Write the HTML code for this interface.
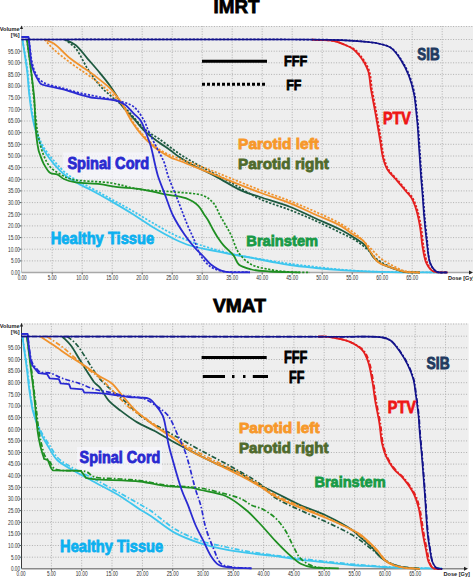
<!DOCTYPE html>
<html><head><meta charset="utf-8"><style>
html,body{margin:0;padding:0;background:#fff;width:473px;height:579px;overflow:hidden}
svg{display:block}
</style></head><body>
<svg width="473" height="579" viewBox="0 0 473 579">
<rect x="21.5" y="26.0" width="451.5" height="246.5" fill="#eeeeee"/>
<path d="M52.2,26.0 V272.5 M82.2,26.0 V272.5 M112.2,26.0 V272.5 M142.2,26.0 V272.5 M172.2,26.0 V272.5 M202.2,26.0 V272.5 M232.2,26.0 V272.5 M262.2,26.0 V272.5 M292.2,26.0 V272.5 M322.2,26.0 V272.5 M352.2,26.0 V272.5 M382.2,26.0 V272.5 M412.2,26.0 V272.5 M442.2,26.0 V272.5 M21.5,260.9 H473.0 M21.5,249.2 H473.0 M21.5,237.6 H473.0 M21.5,225.9 H473.0 M21.5,214.2 H473.0 M21.5,202.6 H473.0 M21.5,190.9 H473.0 M21.5,179.3 H473.0 M21.5,167.6 H473.0 M21.5,156.0 H473.0 M21.5,144.3 H473.0 M21.5,132.7 H473.0 M21.5,121.0 H473.0 M21.5,109.4 H473.0 M21.5,97.8 H473.0 M21.5,86.1 H473.0 M21.5,74.4 H473.0 M21.5,62.8 H473.0 M21.5,51.2 H473.0 M21.5,39.5 H473.0 M21.5,26.5 H473.0" stroke="#b0b0b0" stroke-width="1" stroke-dasharray="1,1.6" fill="none"/>
<path d="M21.5,26.0 V272.5" stroke="#c0c0c0" stroke-width="1"/>
<path d="M21.5,272.5 H470.0" stroke="#a8a8a8" stroke-width="1.5"/>
<path d="M21.5,25.5 l-1.6,3.5 h3.2 z" fill="#222"/>
<path d="M473.0,272.5 l-4,-2 v4 z" fill="#222"/>
<path d="M19.5,260.9 H21.5 M19.5,249.2 H21.5 M19.5,237.6 H21.5 M19.5,225.9 H21.5 M19.5,214.2 H21.5 M19.5,202.6 H21.5 M19.5,190.9 H21.5 M19.5,179.3 H21.5 M19.5,167.6 H21.5 M19.5,156.0 H21.5 M19.5,144.3 H21.5 M19.5,132.7 H21.5 M19.5,121.0 H21.5 M19.5,109.4 H21.5 M19.5,97.8 H21.5 M19.5,86.1 H21.5 M19.5,74.4 H21.5 M19.5,62.8 H21.5 M19.5,51.2 H21.5 M52.2,272.5 v2 M82.2,272.5 v2 M112.2,272.5 v2 M142.2,272.5 v2 M172.2,272.5 v2 M202.2,272.5 v2 M232.2,272.5 v2 M262.2,272.5 v2 M292.2,272.5 v2 M322.2,272.5 v2 M352.2,272.5 v2 M382.2,272.5 v2 M412.2,272.5 v2" stroke="#606060" stroke-width="1"/>
<g font-family="Liberation Sans" font-size="6.8" fill="#303030"><text x="11.0" y="274.8" textLength="9.0" lengthAdjust="spacingAndGlyphs">0.00</text><text x="11.0" y="263.2" textLength="9.0" lengthAdjust="spacingAndGlyphs">5.00</text><text x="8.0" y="251.5" textLength="12.0" lengthAdjust="spacingAndGlyphs">10.00</text><text x="8.0" y="239.9" textLength="12.0" lengthAdjust="spacingAndGlyphs">15.00</text><text x="8.0" y="228.2" textLength="12.0" lengthAdjust="spacingAndGlyphs">20.00</text><text x="8.0" y="216.6" textLength="12.0" lengthAdjust="spacingAndGlyphs">25.00</text><text x="8.0" y="204.9" textLength="12.0" lengthAdjust="spacingAndGlyphs">30.00</text><text x="8.0" y="193.2" textLength="12.0" lengthAdjust="spacingAndGlyphs">35.00</text><text x="8.0" y="181.6" textLength="12.0" lengthAdjust="spacingAndGlyphs">40.00</text><text x="8.0" y="169.9" textLength="12.0" lengthAdjust="spacingAndGlyphs">45.00</text><text x="8.0" y="158.3" textLength="12.0" lengthAdjust="spacingAndGlyphs">50.00</text><text x="8.0" y="146.7" textLength="12.0" lengthAdjust="spacingAndGlyphs">55.00</text><text x="8.0" y="135.0" textLength="12.0" lengthAdjust="spacingAndGlyphs">60.00</text><text x="8.0" y="123.3" textLength="12.0" lengthAdjust="spacingAndGlyphs">65.00</text><text x="8.0" y="111.7" textLength="12.0" lengthAdjust="spacingAndGlyphs">70.00</text><text x="8.0" y="100.0" textLength="12.0" lengthAdjust="spacingAndGlyphs">75.00</text><text x="8.0" y="88.4" textLength="12.0" lengthAdjust="spacingAndGlyphs">80.00</text><text x="8.0" y="76.7" textLength="12.0" lengthAdjust="spacingAndGlyphs">85.00</text><text x="8.0" y="65.1" textLength="12.0" lengthAdjust="spacingAndGlyphs">90.00</text><text x="8.0" y="53.5" textLength="12.0" lengthAdjust="spacingAndGlyphs">95.00</text><text x="17.7" y="280.1" textLength="9.0" lengthAdjust="spacingAndGlyphs">0.00</text><text x="47.7" y="280.1" textLength="9.0" lengthAdjust="spacingAndGlyphs">5.00</text><text x="76.2" y="280.1" textLength="12.0" lengthAdjust="spacingAndGlyphs">10.00</text><text x="106.2" y="280.1" textLength="12.0" lengthAdjust="spacingAndGlyphs">15.00</text><text x="136.2" y="280.1" textLength="12.0" lengthAdjust="spacingAndGlyphs">20.00</text><text x="166.2" y="280.1" textLength="12.0" lengthAdjust="spacingAndGlyphs">25.00</text><text x="196.2" y="280.1" textLength="12.0" lengthAdjust="spacingAndGlyphs">30.00</text><text x="226.2" y="280.1" textLength="12.0" lengthAdjust="spacingAndGlyphs">35.00</text><text x="256.2" y="280.1" textLength="12.0" lengthAdjust="spacingAndGlyphs">40.00</text><text x="286.2" y="280.1" textLength="12.0" lengthAdjust="spacingAndGlyphs">45.00</text><text x="316.2" y="280.1" textLength="12.0" lengthAdjust="spacingAndGlyphs">50.00</text><text x="346.2" y="280.1" textLength="12.0" lengthAdjust="spacingAndGlyphs">55.00</text><text x="376.2" y="280.1" textLength="12.0" lengthAdjust="spacingAndGlyphs">60.00</text><text x="406.2" y="280.1" textLength="12.0" lengthAdjust="spacingAndGlyphs">65.00</text></g>
<g font-family="Liberation Sans" font-size="5.6" font-weight="bold" fill="#222"><text x="19.5" y="30.5" text-anchor="end">Volume</text><text x="19.5" y="36.5" text-anchor="end">[%]</text><text x="448.0" y="280.0">Dose [Gy]</text></g>
<rect x="63.0" y="152.5" width="88.0" height="27.0" fill="#f8f8ff" fill-opacity="0.6"/>
<path d="M22.5,40.0 C24.2,50.0 26.3,60.4 27.5,70.0 C28.6,78.7 28.8,86.8 29.8,95.0 C30.8,103.1 32.1,112.2 33.5,119.0 C34.6,124.0 35.5,127.6 37.0,132.0 C38.6,136.6 40.3,141.3 43.0,146.0 C46.1,151.3 50.8,157.2 55.0,162.0 C58.8,166.4 62.7,170.6 67.0,174.0 C71.1,177.2 75.9,179.6 80.0,182.0 C83.5,184.0 86.1,185.3 90.0,187.4 C95.7,190.5 104.1,195.1 111.1,199.0 C118.2,202.9 125.3,206.7 132.3,210.7 C139.4,214.8 146.3,219.2 153.4,223.3 C160.4,227.3 168.0,231.8 174.6,235.0 C180.1,237.6 185.4,239.5 190.0,241.3 C193.7,242.7 195.6,243.6 200.0,245.0 C207.9,247.5 223.1,251.9 233.7,254.3 C243.0,256.4 250.3,257.4 260.0,259.0 C271.9,261.0 285.3,263.2 300.0,265.0 C318.0,267.2 338.1,269.7 360.0,271.0 C386.3,272.5 418.0,272.0 447.0,272.5" stroke="#3ec6ee" stroke-width="1.7" fill="none" stroke-dasharray="2.2,1.6" stroke-linejoin="round"/>
<path d="M22.5,40.0 C24.0,50.0 25.8,60.4 27.0,70.0 C28.1,78.7 28.3,86.8 29.3,95.0 C30.2,103.0 31.4,111.9 32.7,118.7 C33.7,123.9 34.6,127.7 36.1,132.2 C37.7,137.0 39.3,142.0 42.0,146.9 C45.0,152.5 49.6,158.8 53.8,163.8 C57.6,168.3 61.4,172.3 65.7,175.7 C69.9,179.0 74.9,181.7 79.2,184.1 C82.9,186.2 85.8,187.3 90.0,189.5 C95.9,192.6 104.1,197.1 111.1,201.1 C118.2,205.2 125.3,209.4 132.3,213.8 C139.4,218.2 146.3,223.3 153.4,227.6 C160.4,231.8 168.0,236.1 174.6,239.2 C180.1,241.8 184.5,243.8 190.0,245.5 C196.2,247.4 203.3,248.6 210.0,250.0 C216.7,251.4 223.3,252.7 230.0,254.0 C236.7,255.2 243.3,256.3 250.0,257.5 C256.7,258.8 263.3,260.2 270.0,261.5 C276.7,262.7 282.9,264.0 290.0,265.0 C298.1,266.2 307.4,267.1 316.0,268.0 C324.4,268.9 333.2,269.7 341.0,270.2 C347.8,270.7 352.5,270.9 360.0,271.2 C370.9,271.6 386.1,272.1 400.0,272.3 C415.0,272.5 431.3,272.4 447.0,272.5" stroke="#3ec6ee" stroke-width="1.8" fill="none" stroke-linejoin="round"/>
<path d="M27.0,40.0 C28.3,50.0 29.9,60.4 31.0,70.0 C32.0,78.7 32.7,87.1 33.5,95.0 C34.2,102.0 34.8,108.3 35.5,115.0 C36.3,121.7 36.7,128.3 38.0,135.0 C39.4,141.8 41.3,149.6 43.7,155.4 C45.6,160.0 47.5,164.0 50.4,167.2 C53.1,170.1 56.6,172.0 60.0,174.0 C63.4,176.0 65.8,177.7 70.7,179.0 C79.7,181.5 98.7,181.1 111.0,183.0 C121.5,184.7 130.0,187.8 140.0,189.3 C150.6,190.9 162.2,190.8 173.0,191.9 C183.4,193.0 196.2,192.8 203.4,195.7 C208.0,197.6 210.9,200.1 213.6,203.3 C216.4,206.5 217.7,211.2 219.8,215.0 C221.9,218.8 224.2,222.6 226.2,226.1 C228.0,229.3 229.4,231.7 231.2,235.3 C233.6,240.2 235.3,248.0 238.8,253.0 C242.1,257.7 246.5,261.8 251.5,264.5 C256.8,267.4 263.7,268.3 270.0,269.5 C276.5,270.8 283.3,271.5 290.0,272.0 C296.7,272.5 303.3,272.3 310.0,272.5" stroke="#1f8f22" stroke-width="1.7" fill="none" stroke-dasharray="2.2,1.6" stroke-linejoin="round"/>
<path d="M27.0,40.0 C28.3,50.0 29.8,60.0 31.0,70.0 C32.2,80.0 33.7,91.2 34.4,100.0 C34.9,107.0 34.8,112.5 35.2,118.7 C35.5,124.8 35.9,131.4 36.5,137.0 C37.0,141.7 37.7,146.6 38.5,150.0 C39.0,152.2 39.6,153.4 40.3,155.4 C41.2,157.9 42.2,161.0 43.7,163.8 C45.4,166.9 47.8,171.5 50.4,173.1 C52.4,174.4 55.0,173.4 57.2,174.3 C59.6,175.3 61.3,177.7 64.0,179.0 C67.3,180.6 71.1,181.6 75.8,182.4 C82.4,183.6 92.8,183.2 100.0,184.1 C105.9,184.8 110.1,186.1 116.1,186.9 C123.6,187.9 133.2,188.1 141.5,189.4 C149.6,190.6 157.8,192.9 165.4,194.4 C172.4,195.8 179.9,196.0 185.7,198.2 C190.6,200.1 195.1,202.7 198.3,205.8 C201.1,208.5 202.7,212.3 204.5,215.0 C206.0,217.2 207.2,218.7 208.5,221.0 C210.1,223.7 211.7,227.2 213.4,230.2 C215.1,233.1 216.8,236.2 218.6,238.8 C220.2,241.2 221.5,243.0 223.6,245.4 C226.3,248.5 231.1,252.1 233.7,255.6 C235.9,258.5 236.2,262.2 238.8,264.5 C241.8,267.1 246.8,268.3 251.5,269.5 C257.0,270.9 263.1,271.0 270.0,271.5 C278.8,272.1 290.0,272.0 300.0,272.3" stroke="#1f8f22" stroke-width="1.8" fill="none" stroke-linejoin="round"/>
<path d="M64.8,39.5 C68.5,42.5 72.4,44.6 75.8,48.6 C80.2,53.8 83.5,62.5 87.7,68.9 C91.6,74.9 95.7,80.9 100.0,85.8 C103.8,90.1 107.9,93.3 112.0,97.0 C116.2,100.7 120.3,103.5 125.0,108.0 C131.3,113.9 139.2,124.5 145.7,130.0 C150.4,134.0 154.3,135.5 159.2,139.0 C165.4,143.3 173.0,149.6 180.0,154.2 C186.6,158.6 192.6,161.9 200.0,166.0 C208.9,171.0 220.0,176.5 230.0,182.0 C240.0,187.5 249.8,194.3 260.0,199.0 C269.8,203.5 280.4,206.2 290.0,210.0 C299.0,213.6 307.5,217.1 316.0,221.0 C324.5,224.8 333.9,229.5 341.0,233.0 C346.4,235.6 350.5,237.2 355.0,240.0 C359.6,242.9 364.1,246.5 368.0,250.0 C371.7,253.2 374.1,257.1 378.0,260.0 C382.3,263.2 388.2,265.9 393.0,268.0 C397.1,269.8 400.7,271.2 405.0,272.0 C409.7,272.8 415.0,272.3 420.0,272.5" stroke="#1e5a40" stroke-width="1.7" fill="none" stroke-dasharray="2.2,1.6" stroke-linejoin="round"/>
<path d="M64.8,39.5 C68.5,41.4 72.3,42.5 75.8,45.2 C80.0,48.5 83.7,54.2 87.7,58.8 C91.8,63.5 96.2,68.4 100.0,73.1 C103.6,77.4 106.9,81.4 110.0,85.8 C113.1,90.2 116.9,96.0 118.6,99.3 C119.5,101.0 119.2,101.8 120.3,103.5 C122.6,107.1 129.4,113.8 133.8,118.7 C137.9,123.3 141.4,128.2 145.7,132.2 C149.9,136.1 154.8,139.2 159.2,142.4 C163.2,145.4 167.4,148.1 171.0,150.8 C174.2,153.2 176.8,155.4 180.0,157.6 C183.4,159.9 186.3,161.6 190.7,164.0 C197.3,167.6 207.7,172.2 216.1,176.6 C224.6,181.1 233.6,187.1 241.5,190.6 C248.0,193.5 253.1,194.7 260.0,197.0 C268.9,200.0 280.8,203.3 290.4,207.0 C299.3,210.5 307.3,214.7 315.8,218.5 C324.3,222.3 334.4,226.5 341.2,230.0 C346.0,232.5 349.0,234.4 353.0,236.9 C357.2,239.6 363.0,243.2 365.7,245.8 C367.3,247.3 367.9,248.4 369.0,250.0 C370.4,252.0 371.4,255.0 373.3,257.2 C375.3,259.6 377.9,261.8 380.9,263.6 C384.5,265.7 389.5,267.2 393.6,268.6 C397.5,269.9 400.9,271.3 405.0,272.0 C409.6,272.8 415.0,272.3 420.0,272.5" stroke="#1e5a40" stroke-width="1.8" fill="none" stroke-linejoin="round"/>
<path d="M44.5,39.5 C47.6,42.8 50.1,46.1 53.8,49.5 C58.5,53.8 65.0,58.7 70.7,63.0 C76.3,67.2 82.5,71.1 87.7,74.8 C92.2,78.0 95.8,80.6 100.0,84.0 C104.8,87.9 110.6,92.7 115.0,97.0 C118.8,100.7 121.9,103.8 125.0,108.0 C128.6,112.9 131.4,120.0 135.0,125.0 C138.2,129.5 141.1,133.1 145.0,137.0 C149.3,141.4 154.3,146.4 160.0,150.0 C165.9,153.8 172.9,156.1 180.0,159.0 C187.8,162.2 196.7,164.8 205.0,168.0 C213.4,171.2 221.3,174.5 230.0,178.0 C239.5,181.8 250.0,186.2 260.0,190.0 C270.0,193.8 280.4,197.2 290.0,201.0 C299.0,204.6 307.5,208.1 316.0,212.0 C324.5,215.8 333.6,219.7 341.0,224.0 C347.4,227.8 353.2,232.0 358.0,236.0 C362.0,239.3 364.6,242.3 368.2,245.8 C372.2,249.7 376.4,255.0 380.9,258.5 C384.9,261.6 389.4,263.9 393.6,266.0 C397.4,268.0 400.8,269.9 405.0,271.0 C409.6,272.2 415.0,272.0 420.0,272.5" stroke="#f0922c" stroke-width="1.7" fill="none" stroke-dasharray="2.2,1.6" stroke-linejoin="round"/>
<path d="M44.5,39.5 C47.6,40.8 50.4,41.3 53.8,43.5 C58.8,46.7 64.9,54.2 70.7,58.8 C76.2,63.2 82.5,66.9 87.7,70.6 C92.2,73.8 96.1,76.8 100.0,79.9 C103.5,82.7 106.9,85.2 110.0,88.3 C113.1,91.4 116.4,95.7 118.6,98.5 C120.1,100.4 120.6,101.3 122.0,103.5 C124.6,107.7 128.5,116.4 132.1,122.0 C135.3,127.0 138.9,131.7 142.3,135.6 C145.1,138.9 147.8,141.4 150.7,144.0 C153.5,146.5 156.0,148.6 159.2,150.8 C162.7,153.2 167.3,155.8 171.0,157.6 C174.1,159.1 176.3,159.6 180.0,161.0 C186.0,163.3 195.4,167.1 203.4,170.3 C211.7,173.6 219.9,176.9 228.8,180.4 C238.7,184.3 249.6,188.7 260.0,192.5 C270.2,196.3 280.8,199.4 290.4,203.3 C299.3,206.9 307.3,210.9 315.8,214.7 C324.3,218.5 334.5,222.3 341.2,226.1 C346.0,228.9 349.2,231.9 353.0,234.4 C356.5,236.7 360.2,237.9 363.1,240.7 C366.2,243.7 368.2,248.5 370.8,252.2 C373.3,255.7 375.1,259.8 378.4,262.3 C381.8,264.9 386.8,265.8 391.0,267.4 C395.2,269.0 399.1,270.8 403.7,271.7 C408.7,272.7 414.6,272.2 420.0,272.5" stroke="#f0922c" stroke-width="1.8" fill="none" stroke-linejoin="round"/>
<path d="M21.5,37.0 L28.5,37.0 C29.0,40.7 29.5,44.1 30.0,48.0 C30.6,52.4 31.1,57.8 32.0,62.0 C32.8,65.6 33.6,68.9 35.0,72.0 C36.3,74.9 37.9,78.0 40.0,80.0 C42.0,81.9 44.1,82.8 47.0,84.0 C51.0,85.6 56.8,86.6 62.0,88.0 C67.7,89.6 73.8,91.5 80.0,93.0 C86.5,94.5 93.2,95.6 100.0,97.0 C107.2,98.5 115.9,99.9 122.0,101.8 C126.6,103.3 130.3,104.1 133.8,106.8 C137.8,109.9 141.4,115.9 144.0,120.4 C146.3,124.3 147.0,127.9 149.0,132.2 C151.4,137.4 154.8,143.8 157.5,149.1 C159.9,153.9 162.5,158.2 164.3,162.7 C165.9,166.9 166.2,170.5 167.9,175.4 C170.3,182.4 174.8,192.5 178.0,200.7 C181.1,208.5 184.0,216.6 186.9,223.6 C189.4,229.7 192.0,234.9 194.4,240.4 C196.6,245.6 197.9,251.1 200.7,255.6 C203.4,259.9 207.0,264.4 210.9,267.0 C214.5,269.4 218.1,270.4 223.0,271.3 C230.1,272.7 241.0,272.0 250.0,272.3" stroke="#2a2ad2" stroke-width="1.7" fill="none" stroke-dasharray="2.2,1.6" stroke-linejoin="round"/>
<path d="M21.5,37.0 L28.5,37.0 C28.8,39.7 29.1,41.8 29.5,45.0 C30.1,49.9 30.5,58.9 31.5,63.8 C32.2,67.1 32.9,69.3 34.0,72.0 C35.2,74.9 37.2,78.5 38.6,80.7 C39.5,82.1 39.8,83.2 41.0,84.0 C42.4,85.0 44.5,85.2 47.0,85.8 C50.9,86.8 57.1,87.8 62.3,89.2 C67.8,90.6 74.1,92.8 79.2,94.3 C83.5,95.5 87.3,96.8 91.0,97.5 C94.2,98.1 96.5,98.0 100.0,98.4 C104.8,99.0 112.3,99.5 116.9,100.9 C120.3,102.0 122.7,103.2 125.4,105.1 C128.4,107.3 131.1,110.9 133.8,113.6 C136.2,116.0 138.7,117.6 140.6,120.4 C142.8,123.6 144.1,128.1 145.7,132.2 C147.4,136.5 149.2,140.8 150.7,145.7 C152.4,151.4 153.7,158.9 155.0,164.3 C156.0,168.5 156.5,171.2 157.8,175.4 C159.6,181.2 162.9,189.0 165.4,195.7 C167.9,202.3 169.9,209.1 173.0,215.5 C176.2,222.0 180.6,228.8 184.5,234.5 C187.9,239.5 191.6,244.2 195.0,248.0 C197.7,251.1 200.4,253.3 203.0,256.0 C205.7,258.8 207.7,262.0 210.9,264.5 C214.4,267.2 218.4,269.9 223.6,271.3 C230.6,273.2 241.2,272.0 250.0,272.3" stroke="#2a2ad2" stroke-width="1.8" fill="none" stroke-linejoin="round"/>
<path d="M312.0,39.6 C314.3,39.7 316.1,39.8 318.8,40.0 C322.9,40.3 329.3,40.0 334.0,41.0 C338.2,41.9 342.2,43.8 345.8,45.2 C348.8,46.4 351.7,47.4 354.1,49.0 C356.3,50.5 357.8,52.4 359.6,54.5 C361.7,57.0 363.9,60.0 365.6,63.0 C367.2,65.9 368.6,68.5 369.6,72.0 C370.9,76.6 371.0,82.7 371.9,88.4 C373.0,94.8 374.5,102.3 375.7,108.7 C376.7,114.4 377.7,119.5 378.6,125.0 C379.6,130.6 380.5,136.4 381.4,141.9 C382.3,147.1 382.7,152.4 383.9,157.1 C385.0,161.4 386.0,165.2 388.2,169.0 C390.6,173.2 395.1,177.0 398.3,180.8 C401.3,184.3 404.3,188.0 406.8,191.0 C408.9,193.4 410.8,194.9 412.4,197.6 C414.5,201.0 416.1,205.6 417.5,210.3 C419.1,215.6 420.3,221.9 421.3,228.0 C422.4,234.5 422.7,242.0 423.9,248.3 C424.9,253.8 425.8,259.5 427.7,263.6 C429.1,266.7 430.3,269.6 433.0,271.2 C436.4,273.2 442.7,272.1 447.5,272.5" stroke="#e41e1e" stroke-width="1.7" fill="none" stroke-dasharray="2.2,1.6" stroke-linejoin="round"/>
<path d="M312.0,39.6 C314.3,39.7 316.1,39.8 318.8,40.0 C322.9,40.3 329.3,40.0 334.0,41.0 C338.2,41.9 342.4,43.7 345.8,45.2 C348.5,46.4 350.9,47.4 353.0,49.0 C355.1,50.5 356.7,52.4 358.5,54.5 C360.6,57.0 362.8,60.0 364.5,63.0 C366.1,65.9 367.5,68.5 368.5,72.0 C369.8,76.6 369.9,82.7 370.8,88.4 C371.9,94.8 373.4,102.3 374.6,108.7 C375.6,114.4 376.6,119.5 377.5,125.0 C378.5,130.6 379.4,136.4 380.3,141.9 C381.2,147.1 381.6,152.4 382.8,157.1 C383.9,161.4 384.9,165.2 387.1,169.0 C389.5,173.2 394.0,177.0 397.2,180.8 C400.2,184.3 403.2,188.0 405.7,191.0 C407.8,193.4 409.7,194.9 411.3,197.6 C413.4,201.0 415.0,205.6 416.4,210.3 C418.0,215.6 419.2,221.9 420.2,228.0 C421.3,234.5 421.6,242.0 422.8,248.3 C423.8,253.8 424.5,259.6 426.6,263.6 C428.2,266.8 430.0,269.7 433.0,271.2 C436.6,273.1 442.7,272.1 447.5,272.5" stroke="#e41e1e" stroke-width="1.8" fill="none" stroke-linejoin="round"/>
<path d="M21.5,39.5 C111.0,39.5 235.8,39.2 290.0,39.5 C313.6,39.6 326.1,39.5 340.7,40.1 C351.8,40.6 363.2,41.4 370.0,42.2 C373.7,42.6 375.4,42.8 378.4,43.5 C382.2,44.4 387.3,45.3 391.0,47.8 C395.2,50.6 398.7,55.9 401.8,60.5 C404.9,65.2 407.3,70.3 409.4,75.7 C411.6,81.3 413.2,87.3 414.5,93.5 C415.8,100.0 416.4,108.0 417.0,113.8 C417.5,118.1 417.7,120.5 418.1,125.0 C418.7,131.8 419.2,141.9 419.8,150.4 C420.4,158.8 420.9,167.8 421.5,175.7 C422.0,182.6 422.6,188.5 423.1,195.0 C423.6,201.7 424.0,208.2 424.6,215.4 C425.3,223.4 426.2,232.5 427.2,240.7 C428.1,248.5 428.1,258.1 430.4,263.6 C431.9,267.3 433.9,270.2 436.7,271.7 C439.6,273.2 443.9,272.2 447.5,272.5" stroke="#12128a" stroke-width="1.7" fill="none" stroke-dasharray="2.2,1.6" stroke-linejoin="round"/>
<path d="M21.5,39.5 C111.0,39.5 235.8,39.2 290.0,39.5 C313.6,39.6 326.1,39.5 340.7,40.1 C351.8,40.6 363.2,41.4 370.0,42.2 C373.7,42.6 375.4,42.8 378.4,43.5 C382.2,44.4 387.3,45.2 391.0,47.8 C395.1,50.6 398.3,55.9 401.2,60.5 C404.2,65.2 406.7,70.3 408.8,75.7 C411.0,81.3 412.6,87.3 413.9,93.5 C415.2,100.0 415.8,108.0 416.4,113.8 C416.9,118.1 417.1,120.5 417.5,125.0 C418.1,131.8 418.6,141.9 419.2,150.4 C419.8,158.8 420.3,167.8 420.9,175.7 C421.4,182.6 422.0,188.5 422.5,195.0 C423.0,201.7 423.4,208.2 424.0,215.4 C424.7,223.4 425.5,232.5 426.6,240.7 C427.7,248.5 428.0,258.1 430.4,263.6 C432.0,267.2 433.9,270.2 436.7,271.7 C439.6,273.2 443.9,272.2 447.5,272.5" stroke="#12128a" stroke-width="1.6" fill="none" stroke-linejoin="round"/>
<rect x="21.5" y="323.5" width="447.2" height="245.3" fill="#eeeeee"/>
<path d="M51.4,323.5 V568.8 M81.7,323.5 V568.8 M112.0,323.5 V568.8 M142.4,323.5 V568.8 M172.7,323.5 V568.8 M203.0,323.5 V568.8 M233.3,323.5 V568.8 M263.6,323.5 V568.8 M293.9,323.5 V568.8 M324.2,323.5 V568.8 M354.6,323.5 V568.8 M384.9,323.5 V568.8 M415.2,323.5 V568.8 M445.5,323.5 V568.8 M21.5,557.2 H468.7 M21.5,545.5 H468.7 M21.5,533.9 H468.7 M21.5,522.3 H468.7 M21.5,510.6 H468.7 M21.5,499.0 H468.7 M21.5,487.4 H468.7 M21.5,475.8 H468.7 M21.5,464.1 H468.7 M21.5,452.5 H468.7 M21.5,440.9 H468.7 M21.5,429.2 H468.7 M21.5,417.6 H468.7 M21.5,406.0 H468.7 M21.5,394.3 H468.7 M21.5,382.7 H468.7 M21.5,371.1 H468.7 M21.5,359.5 H468.7 M21.5,347.8 H468.7 M21.5,336.2 H468.7 M21.5,324.0 H468.7" stroke="#b0b0b0" stroke-width="1" stroke-dasharray="1,1.6" fill="none"/>
<path d="M21.5,323.5 V568.8" stroke="#3a3a3a" stroke-width="1"/>
<path d="M21.5,568.8 H465.0" stroke="#8a8a8a" stroke-width="1.5"/>
<path d="M21.5,323.0 l-1.6,3.5 h3.2 z" fill="#222"/>
<path d="M468.0,568.8 l-4,-2 v4 z" fill="#222"/>
<path d="M19.5,557.2 H21.5 M19.5,545.5 H21.5 M19.5,533.9 H21.5 M19.5,522.3 H21.5 M19.5,510.6 H21.5 M19.5,499.0 H21.5 M19.5,487.4 H21.5 M19.5,475.8 H21.5 M19.5,464.1 H21.5 M19.5,452.5 H21.5 M19.5,440.9 H21.5 M19.5,429.2 H21.5 M19.5,417.6 H21.5 M19.5,406.0 H21.5 M19.5,394.3 H21.5 M19.5,382.7 H21.5 M19.5,371.1 H21.5 M19.5,359.5 H21.5 M19.5,347.8 H21.5 M51.4,568.8 v2 M81.7,568.8 v2 M112.0,568.8 v2 M142.4,568.8 v2 M172.7,568.8 v2 M203.0,568.8 v2 M233.3,568.8 v2 M263.6,568.8 v2 M293.9,568.8 v2 M324.2,568.8 v2 M354.6,568.8 v2 M384.9,568.8 v2 M415.2,568.8 v2" stroke="#606060" stroke-width="1"/>
<g font-family="Liberation Sans" font-size="6.8" fill="#303030"><text x="11.0" y="571.1" textLength="9.0" lengthAdjust="spacingAndGlyphs">0.00</text><text x="11.0" y="559.5" textLength="9.0" lengthAdjust="spacingAndGlyphs">5.00</text><text x="8.0" y="547.8" textLength="12.0" lengthAdjust="spacingAndGlyphs">10.00</text><text x="8.0" y="536.2" textLength="12.0" lengthAdjust="spacingAndGlyphs">15.00</text><text x="8.0" y="524.6" textLength="12.0" lengthAdjust="spacingAndGlyphs">20.00</text><text x="8.0" y="512.9" textLength="12.0" lengthAdjust="spacingAndGlyphs">25.00</text><text x="8.0" y="501.3" textLength="12.0" lengthAdjust="spacingAndGlyphs">30.00</text><text x="8.0" y="489.7" textLength="12.0" lengthAdjust="spacingAndGlyphs">35.00</text><text x="8.0" y="478.1" textLength="12.0" lengthAdjust="spacingAndGlyphs">40.00</text><text x="8.0" y="466.4" textLength="12.0" lengthAdjust="spacingAndGlyphs">45.00</text><text x="8.0" y="454.8" textLength="12.0" lengthAdjust="spacingAndGlyphs">50.00</text><text x="8.0" y="443.2" textLength="12.0" lengthAdjust="spacingAndGlyphs">55.00</text><text x="8.0" y="431.5" textLength="12.0" lengthAdjust="spacingAndGlyphs">60.00</text><text x="8.0" y="419.9" textLength="12.0" lengthAdjust="spacingAndGlyphs">65.00</text><text x="8.0" y="408.3" textLength="12.0" lengthAdjust="spacingAndGlyphs">70.00</text><text x="8.0" y="396.6" textLength="12.0" lengthAdjust="spacingAndGlyphs">75.00</text><text x="8.0" y="385.0" textLength="12.0" lengthAdjust="spacingAndGlyphs">80.00</text><text x="8.0" y="373.4" textLength="12.0" lengthAdjust="spacingAndGlyphs">85.00</text><text x="8.0" y="361.8" textLength="12.0" lengthAdjust="spacingAndGlyphs">90.00</text><text x="8.0" y="350.1" textLength="12.0" lengthAdjust="spacingAndGlyphs">95.00</text><text x="16.6" y="576.4" textLength="9.0" lengthAdjust="spacingAndGlyphs">0.00</text><text x="46.9" y="576.4" textLength="9.0" lengthAdjust="spacingAndGlyphs">5.00</text><text x="75.7" y="576.4" textLength="12.0" lengthAdjust="spacingAndGlyphs">10.00</text><text x="106.0" y="576.4" textLength="12.0" lengthAdjust="spacingAndGlyphs">15.00</text><text x="136.4" y="576.4" textLength="12.0" lengthAdjust="spacingAndGlyphs">20.00</text><text x="166.7" y="576.4" textLength="12.0" lengthAdjust="spacingAndGlyphs">25.00</text><text x="197.0" y="576.4" textLength="12.0" lengthAdjust="spacingAndGlyphs">30.00</text><text x="227.3" y="576.4" textLength="12.0" lengthAdjust="spacingAndGlyphs">35.00</text><text x="257.6" y="576.4" textLength="12.0" lengthAdjust="spacingAndGlyphs">40.00</text><text x="287.9" y="576.4" textLength="12.0" lengthAdjust="spacingAndGlyphs">45.00</text><text x="318.2" y="576.4" textLength="12.0" lengthAdjust="spacingAndGlyphs">50.00</text><text x="348.6" y="576.4" textLength="12.0" lengthAdjust="spacingAndGlyphs">55.00</text><text x="378.9" y="576.4" textLength="12.0" lengthAdjust="spacingAndGlyphs">60.00</text><text x="409.2" y="576.4" textLength="12.0" lengthAdjust="spacingAndGlyphs">65.00</text></g>
<g font-family="Liberation Sans" font-size="5.6" font-weight="bold" fill="#222"><text x="19.5" y="328.0" text-anchor="end">Volume</text><text x="19.5" y="334.0" text-anchor="end">[%]</text><text x="443.5" y="576.3">Dose [Gy]</text></g>
<rect x="77.0" y="447.0" width="85.0" height="25.0" fill="#f8f8ff" fill-opacity="0.6"/>
<path d="M22.5,337.0 C24.2,348.0 26.2,360.4 27.5,370.0 C28.5,377.5 28.9,383.3 29.8,390.0 C30.8,396.7 31.7,404.0 33.2,410.0 C34.4,415.0 35.8,419.2 37.5,423.5 C39.1,427.5 40.9,431.3 43.0,435.0 C45.1,438.8 47.6,442.3 50.0,446.0 C52.6,449.9 54.5,454.5 58.0,458.0 C61.7,461.8 66.6,464.2 72.0,467.5 C79.0,471.7 88.7,476.1 97.0,480.5 C105.2,484.9 113.9,489.8 121.5,494.0 C128.1,497.7 134.8,501.5 140.0,504.5 C143.8,506.7 146.0,507.7 150.0,510.3 C156.6,514.7 166.6,524.1 175.4,529.3 C183.6,534.1 192.1,537.7 200.7,540.7 C209.0,543.6 217.5,545.1 226.0,547.0 C234.5,548.9 241.6,550.4 251.5,552.0 C265.1,554.2 283.6,556.5 300.0,558.5 C316.8,560.5 334.2,562.5 351.0,564.0 C367.5,565.5 384.3,566.8 400.0,567.5 C414.5,568.2 428.0,568.2 442.0,568.5" stroke="#3ec6ee" stroke-width="1.7" fill="none" stroke-dasharray="5,2,1.6,2" stroke-linejoin="round"/>
<path d="M22.5,337.0 C24.0,348.0 25.8,360.4 27.0,370.0 C27.9,377.5 28.4,383.3 29.3,390.0 C30.3,396.8 31.3,404.3 32.7,410.3 C33.9,415.3 35.3,419.5 36.9,423.8 C38.4,427.9 40.0,431.8 42.0,435.7 C44.0,439.7 46.3,443.6 48.8,447.5 C51.4,451.7 53.6,456.5 57.2,460.0 C60.9,463.7 65.4,465.8 70.7,469.0 C77.8,473.3 87.6,478.3 96.1,483.0 C104.6,487.6 113.8,492.2 121.5,496.9 C128.3,501.1 134.7,506.3 140.0,509.6 C143.8,512.0 146.0,512.8 150.0,515.4 C156.6,519.6 166.7,528.4 175.4,533.1 C183.6,537.5 192.2,540.5 200.7,543.3 C209.1,546.0 217.6,547.9 226.1,549.6 C234.5,551.3 243.2,552.3 251.5,553.4 C259.6,554.5 267.3,555.0 275.4,556.1 C283.7,557.2 292.2,558.8 300.7,559.9 C309.1,560.9 317.6,561.6 326.1,562.4 C334.6,563.3 343.7,564.3 351.5,565.0 C358.1,565.6 363.1,565.8 370.0,566.2 C378.8,566.7 389.2,567.4 400.0,567.8 C412.8,568.2 428.0,568.3 442.0,568.5" stroke="#3ec6ee" stroke-width="1.8" fill="none" stroke-linejoin="round"/>
<path d="M27.0,337.0 C28.5,348.0 30.2,360.4 31.5,370.0 C32.5,377.5 33.1,383.0 34.0,390.0 C35.0,397.9 36.1,407.5 37.0,415.0 C37.7,421.2 38.1,426.6 39.0,432.0 C39.8,436.9 40.9,441.7 42.0,446.0 C42.9,449.6 43.5,453.2 45.0,456.0 C46.3,458.4 48.4,459.9 50.0,462.0 C51.7,464.2 52.0,467.3 55.0,469.0 C60.6,472.2 79.3,469.3 86.0,471.6 C89.6,472.8 90.1,475.4 93.6,476.6 C99.6,478.7 111.8,478.3 120.0,479.0 C127.1,479.6 133.0,479.6 140.0,480.5 C148.0,481.5 156.3,483.8 165.4,485.0 C176.0,486.4 190.7,486.6 200.0,488.0 C206.4,489.0 210.1,490.0 216.0,491.5 C223.5,493.4 235.1,496.1 241.5,499.0 C245.8,500.9 248.0,503.5 251.5,505.2 C255.0,506.9 259.0,507.3 262.7,509.2 C266.9,511.4 271.6,514.5 275.4,518.0 C279.3,521.6 282.6,526.1 285.5,530.7 C288.5,535.4 290.5,541.2 293.1,546.0 C295.5,550.5 297.3,555.2 300.7,558.6 C304.1,562.0 308.7,564.7 313.4,566.3 C318.4,568.0 324.5,567.6 330.0,568.3" stroke="#1f8f22" stroke-width="1.7" fill="none" stroke-dasharray="5,2,1.6,2" stroke-linejoin="round"/>
<path d="M27.0,337.0 C28.3,348.0 29.8,360.4 31.0,370.0 C31.9,377.5 32.7,382.9 33.5,390.0 C34.4,398.0 35.3,407.8 36.1,415.4 C36.7,421.6 37.0,427.0 37.8,432.3 C38.5,437.1 39.5,442.2 40.3,445.8 C40.9,448.3 41.4,449.9 42.0,452.0 C42.6,454.2 43.4,456.6 44.1,458.9 L47.9,460.1 C49.2,463.1 50.6,467.4 51.7,469.0 C52.2,469.7 52.6,469.9 53.0,470.3 L80.9,470.8 L86.0,477.9 C88.5,478.3 90.0,478.8 93.6,479.2 C102.5,480.2 126.9,480.0 140.0,481.5 C149.8,482.6 156.9,484.9 165.4,485.9 C173.8,486.9 184.2,486.7 190.7,487.7 C194.8,488.3 196.6,489.0 200.7,490.0 C207.2,491.6 218.4,492.8 226.1,496.3 C233.6,499.7 240.3,505.2 246.4,510.3 C252.1,515.0 256.7,520.3 261.6,525.5 C266.4,530.6 270.8,536.1 275.4,540.9 C279.7,545.4 283.8,549.7 288.1,553.6 C292.2,557.3 296.3,561.4 300.7,563.7 C304.7,565.8 308.4,566.7 313.4,567.5 C320.4,568.6 330.3,568.0 338.8,568.3" stroke="#1f8f22" stroke-width="1.8" fill="none" stroke-linejoin="round"/>
<path d="M67.4,336.5 C70.2,338.9 73.2,340.7 75.8,343.6 C78.8,346.9 81.5,351.3 84.3,355.4 C87.2,359.7 89.9,364.8 92.7,369.0 C95.2,372.7 97.0,375.7 100.0,379.1 C103.7,383.3 109.3,388.0 113.5,391.8 C117.1,395.0 119.9,397.0 123.8,400.4 C129.1,405.0 135.8,412.5 142.4,417.3 C148.8,422.0 156.8,425.7 162.7,429.1 C167.3,431.7 170.2,433.2 175.0,435.9 C181.9,439.7 191.3,445.2 200.0,450.0 C209.5,455.2 220.1,460.4 230.0,466.0 C240.1,471.7 251.9,478.0 260.0,484.0 C266.2,488.6 269.3,493.7 275.4,497.8 C282.5,502.6 292.2,506.4 300.7,510.4 C309.1,514.4 317.7,517.9 326.1,521.9 C334.6,525.9 344.5,530.3 351.5,534.5 C356.8,537.7 360.9,540.9 365.0,544.0 C368.6,546.7 371.7,549.3 375.0,552.0 C378.3,554.7 381.3,557.7 385.0,560.0 C388.9,562.4 393.0,564.6 398.0,566.0 C404.3,567.8 412.7,567.9 420.0,568.8" stroke="#1e5a40" stroke-width="1.7" fill="none" stroke-dasharray="5,2,1.6,2" stroke-linejoin="round"/>
<path d="M62.3,336.5 C65.1,339.4 68.1,341.9 70.7,345.3 C73.7,349.2 76.4,354.3 79.2,358.8 C82.0,363.3 85.0,368.2 87.7,372.4 C90.0,376.0 92.1,379.8 94.4,382.5 C96.2,384.6 98.1,385.4 100.0,387.6 C102.7,390.8 105.1,396.6 108.5,400.4 C111.9,404.2 116.0,407.1 120.4,410.5 C125.5,414.4 131.5,419.0 137.3,422.4 C142.8,425.7 148.3,427.7 154.2,430.8 C160.8,434.3 168.5,439.2 175.0,442.7 C180.6,445.7 184.8,447.9 190.7,450.9 C198.1,454.7 207.6,459.8 216.1,463.6 C224.5,467.4 235.4,470.3 241.5,473.7 C245.3,475.8 246.3,477.7 250.0,480.0 C256.1,483.7 266.9,488.5 275.4,492.7 C283.8,496.9 292.2,501.6 300.7,505.4 C309.1,509.2 317.8,511.6 326.1,515.5 C334.7,519.6 345.4,525.3 351.5,529.5 C355.3,532.1 356.9,534.1 360.0,536.8 C363.9,540.2 369.3,544.7 372.9,548.4 C375.9,551.5 377.9,555.0 380.6,557.4 C383.0,559.5 385.3,561.0 388.3,562.5 C392.0,564.3 396.4,565.9 401.2,566.9 C406.8,568.1 413.7,568.2 420.0,568.8" stroke="#1e5a40" stroke-width="1.8" fill="none" stroke-linejoin="round"/>
<path d="M47.0,336.5 C52.1,340.0 57.6,343.4 62.3,347.0 C66.6,350.3 70.0,353.6 74.1,357.1 C78.5,360.9 83.2,365.4 87.7,369.0 C91.8,372.3 96.1,374.6 100.0,378.0 C104.2,381.6 107.7,385.6 112.0,390.0 C117.1,395.2 123.0,402.3 128.8,407.1 C134.0,411.5 139.3,414.1 145.0,418.0 C151.3,422.3 157.9,427.3 165.0,432.0 C172.8,437.2 181.5,443.1 190.0,448.0 C198.5,452.9 207.4,457.1 216.0,461.5 C224.5,465.8 233.8,469.8 241.5,474.0 C248.2,477.6 254.1,481.4 260.0,485.0 C265.4,488.4 269.5,491.8 275.4,495.0 C282.7,499.0 292.2,502.7 300.7,506.5 C309.1,510.2 317.7,513.6 326.1,517.5 C334.6,521.4 345.0,526.2 351.5,530.0 C355.9,532.5 358.6,534.4 362.0,537.0 C365.5,539.7 368.9,543.0 372.0,546.0 C374.9,548.7 377.3,551.3 380.0,554.0 C382.7,556.7 384.8,559.9 388.0,562.0 C391.4,564.3 395.4,565.9 400.0,567.0 C405.7,568.4 413.3,568.2 420.0,568.8" stroke="#f0922c" stroke-width="1.7" fill="none" stroke-dasharray="5,2,1.6,2" stroke-linejoin="round"/>
<path d="M40.3,336.5 C44.8,339.4 49.1,342.1 53.8,345.3 C59.1,348.9 65.3,353.5 70.7,357.1 C75.4,360.2 79.6,362.5 84.3,365.6 C89.4,369.0 95.1,373.3 100.0,376.5 C104.2,379.2 108.3,380.5 111.9,383.5 C115.7,386.7 118.5,391.2 122.0,395.3 C125.8,399.7 129.8,404.7 133.9,408.8 C137.7,412.6 141.6,415.7 145.7,419.0 C150.0,422.5 154.5,425.8 159.3,429.1 C164.3,432.6 169.8,435.7 175.0,439.3 C180.3,443.0 184.7,447.2 190.7,450.9 C198.0,455.4 207.6,459.4 216.1,463.6 C224.6,467.8 233.7,472.2 241.5,476.3 C248.2,479.8 254.2,483.0 260.0,486.5 C265.4,489.8 269.5,493.3 275.4,496.5 C282.7,500.5 292.2,504.3 300.7,507.9 C309.1,511.5 317.7,514.4 326.1,518.0 C334.6,521.6 345.3,526.4 351.5,529.5 C355.1,531.3 357.1,532.2 360.0,534.2 C363.4,536.6 367.2,540.3 370.3,543.2 C373.1,545.8 375.7,548.2 378.0,551.0 C380.4,553.8 381.8,557.6 384.4,560.0 C387.0,562.3 390.1,563.8 393.5,565.1 C397.3,566.6 401.9,567.6 406.3,568.2 C410.8,568.8 415.4,568.6 420.0,568.8" stroke="#f0922c" stroke-width="1.8" fill="none" stroke-linejoin="round"/>
<path d="M21.5,333.8 L27.6,333.8 C28.2,339.2 28.7,345.0 29.5,350.0 C30.2,354.3 30.7,358.8 32.0,362.0 C33.0,364.5 34.6,366.3 36.0,368.0 C37.3,369.5 38.2,371.1 40.0,372.0 C42.5,373.2 46.9,372.3 50.4,373.2 C54.3,374.2 57.9,376.7 62.3,378.3 C67.4,380.2 73.7,381.5 79.2,383.4 C84.6,385.2 89.6,387.8 95.0,389.4 C100.5,391.0 107.0,391.7 111.9,392.8 C115.7,393.7 118.0,394.5 122.0,395.3 C127.9,396.5 138.1,396.6 144.0,398.7 C148.5,400.3 151.4,402.6 155.2,405.2 C159.4,408.1 164.3,410.9 167.9,415.4 C172.1,420.7 174.9,429.1 178.0,435.7 C180.8,441.8 183.4,446.7 185.7,453.4 C188.6,461.6 191.5,474.6 193.3,481.3 C194.3,485.0 194.7,486.7 195.7,490.0 C197.0,494.4 199.2,499.6 200.7,505.2 C202.6,512.0 203.6,520.7 205.8,528.0 C207.9,535.0 210.7,542.1 213.4,548.3 C215.8,553.8 217.5,560.6 221.0,563.6 C223.8,566.0 227.2,566.1 231.2,566.9 C236.8,568.0 244.7,567.8 251.5,568.3" stroke="#2a2ad2" stroke-width="1.7" fill="none" stroke-dasharray="5,2,1.6,2" stroke-linejoin="round"/>
<path d="M21.5,333.8 L27.6,333.8 C28.2,339.3 28.5,345.2 29.3,350.4 C30.0,355.1 30.4,360.6 31.8,363.9 C32.7,366.1 34.0,367.4 35.2,369.0 C36.3,370.5 37.5,371.8 38.6,373.2 L47.0,374.0 L49.6,378.3 L58.9,379.1 L60.6,383.4 L69.0,384.2 L70.7,388.4 L82.6,389.3 L84.3,392.7 C87.9,392.7 91.0,392.6 95.0,392.8 C100.0,393.1 106.3,393.8 111.9,394.5 C117.5,395.2 123.7,396.5 128.8,397.0 C132.9,397.4 136.5,397.3 140.0,397.6 C143.2,397.9 146.5,397.4 149.1,398.7 C151.8,400.0 153.8,402.8 155.9,405.4 C158.3,408.3 161.0,411.8 162.7,415.6 C164.5,419.6 165.1,424.6 166.0,429.1 C166.9,433.4 167.0,437.3 168.0,442.0 C169.2,447.8 171.0,454.0 173.0,461.0 C175.4,469.7 178.8,481.9 181.7,490.0 C183.8,495.9 185.8,499.7 188.0,505.2 C190.5,511.5 193.0,519.3 195.7,525.5 C198.1,531.0 200.8,535.6 203.3,540.7 C205.8,545.8 208.1,551.7 210.9,556.0 C213.2,559.5 215.4,562.9 218.5,564.8 C221.4,566.6 224.5,566.8 228.6,567.4 C234.7,568.3 243.9,568.0 251.5,568.3" stroke="#2a2ad2" stroke-width="1.8" fill="none" stroke-linejoin="round"/>
<path d="M318.0,336.6 C320.6,336.6 322.9,336.4 325.8,336.6 C329.4,336.9 333.7,337.6 337.7,338.5 C341.8,339.4 345.9,340.1 350.0,341.9 C354.5,343.9 360.3,346.7 363.5,350.3 C366.4,353.5 367.6,357.2 369.1,361.6 C371.0,367.1 372.1,374.6 373.3,381.2 C374.5,387.7 375.1,394.1 376.2,400.9 C377.4,408.2 379.3,416.2 380.4,423.4 C381.5,430.1 381.7,437.1 382.9,442.9 C383.9,447.7 384.9,451.5 386.7,455.7 C388.7,460.1 391.5,464.7 394.5,468.6 C397.5,472.4 401.5,474.9 404.7,478.9 C408.4,483.4 412.5,489.2 415.0,494.3 C417.2,498.6 418.2,502.1 419.5,507.2 C421.3,514.4 422.4,525.6 423.8,533.5 C424.9,539.9 426.2,545.8 427.2,550.9 C428.0,554.9 428.5,558.7 429.5,561.7 C430.3,564.1 430.9,566.6 432.4,567.8 C433.6,568.8 435.6,568.8 437.2,569.0 C438.8,569.2 440.4,569.0 442.0,569.0" stroke="#e41e1e" stroke-width="1.7" fill="none" stroke-dasharray="5,2,1.6,2" stroke-linejoin="round"/>
<path d="M318.0,336.6 C320.6,336.6 322.9,336.4 325.8,336.6 C329.4,336.9 333.7,337.6 337.7,338.5 C341.8,339.4 346.0,340.1 350.0,341.9 C354.3,343.9 359.4,346.8 362.5,350.3 C365.3,353.5 366.6,357.2 368.1,361.6 C370.0,367.1 371.1,374.6 372.3,381.2 C373.5,387.7 374.1,394.1 375.2,400.9 C376.4,408.2 378.3,416.2 379.4,423.4 C380.5,430.1 380.7,437.1 381.9,442.9 C382.9,447.7 383.9,451.5 385.7,455.7 C387.7,460.1 390.5,464.7 393.5,468.6 C396.5,472.4 400.5,474.9 403.7,478.9 C407.4,483.4 411.5,489.2 414.0,494.3 C416.2,498.6 417.2,502.1 418.5,507.2 C420.3,514.4 421.4,525.6 422.8,533.5 C423.9,539.9 425.2,545.8 426.2,550.9 C427.0,554.9 427.3,558.7 428.5,561.7 C429.5,564.1 430.8,566.6 432.4,567.8 C433.8,568.8 435.6,568.8 437.2,569.0 C438.8,569.2 440.4,569.0 442.0,569.0" stroke="#e41e1e" stroke-width="1.8" fill="none" stroke-linejoin="round"/>
<path d="M21.5,336.5 C127.7,336.6 283.3,336.4 340.0,336.8 C360.6,337.0 373.6,335.8 382.2,337.4 C386.2,338.1 388.0,338.7 390.6,340.5 C393.8,342.7 396.7,346.6 399.4,350.3 C402.5,354.4 405.5,359.6 407.9,364.4 C410.2,369.0 412.1,373.4 413.5,378.4 C415.0,383.7 415.4,389.3 416.3,395.3 C417.3,402.3 418.5,411.4 419.1,417.8 C419.5,422.5 419.5,425.2 419.9,430.0 C420.4,437.0 421.4,446.3 422.2,455.7 C423.2,467.3 424.2,481.2 425.2,494.3 C426.2,507.8 427.0,525.0 428.2,535.4 C428.9,541.8 429.7,546.2 430.5,550.9 C431.1,554.8 431.2,558.7 432.4,561.7 C433.3,564.1 434.5,566.6 436.3,567.8 C437.9,568.9 440.3,568.6 442.3,569.0" stroke="#12128a" stroke-width="1.7" fill="none" stroke-dasharray="5,2,1.6,2" stroke-linejoin="round"/>
<path d="M21.5,336.5 C127.7,336.6 283.3,336.4 340.0,336.8 C360.6,337.0 373.6,335.8 382.2,337.4 C386.2,338.1 388.0,338.7 390.6,340.5 C393.7,342.7 396.3,346.6 399.0,350.3 C402.0,354.5 405.1,359.6 407.5,364.4 C409.8,369.0 411.7,373.4 413.1,378.4 C414.6,383.7 415.0,389.3 415.9,395.3 C416.9,402.3 418.1,411.4 418.7,417.8 C419.1,422.5 419.1,425.2 419.5,430.0 C420.0,437.0 421.0,446.3 421.8,455.7 C422.8,467.3 423.8,481.2 424.8,494.3 C425.8,507.8 426.6,525.0 427.8,535.4 C428.5,541.8 429.3,546.2 430.1,550.9 C430.8,554.8 431.2,558.7 432.4,561.7 C433.4,564.1 434.5,566.6 436.3,567.8 C437.9,568.9 440.3,568.6 442.3,569.0" stroke="#12128a" stroke-width="1.6" fill="none" stroke-linejoin="round"/>
<g font-family="Liberation Sans" font-weight="bold">
<text x="213.5" y="13.2" font-size="19.2" fill="#000" stroke="#000" stroke-width="0.8" textLength="46.0" lengthAdjust="spacingAndGlyphs">IMRT</text>
<text x="213.0" y="311.6" font-size="19.2" fill="#000" stroke="#000" stroke-width="0.8" textLength="53.0" lengthAdjust="spacingAndGlyphs">VMAT</text>
<path d="M202,61.3 H267" stroke="#000" stroke-width="3"/>
<path d="M202,84.3 H267" stroke="#000" stroke-width="3" stroke-dasharray="3,2"/>
<path d="M201.6,357.4 H266.7" stroke="#000" stroke-width="3"/>
<path d="M202.8,376.5 H225 M232,376.5 h2.5 M243,376.5 h2.5 M252.8,376.5 H268" stroke="#000" stroke-width="3"/>
<text x="284.1" y="65.7" font-size="14.8" fill="#000" stroke="#000" stroke-width="0.8" textLength="23.3" lengthAdjust="spacingAndGlyphs">FFF</text>
<text x="286.3" y="90.1" font-size="14.8" fill="#000" stroke="#000" stroke-width="0.8" textLength="15.1" lengthAdjust="spacingAndGlyphs">FF</text>
<text x="284.0" y="362.8" font-size="16.2" fill="#000" stroke="#000" stroke-width="0.8" textLength="23.4" lengthAdjust="spacingAndGlyphs">FFF</text>
<text x="289.0" y="383.0" font-size="16.2" fill="#000" stroke="#000" stroke-width="0.8" textLength="15.3" lengthAdjust="spacingAndGlyphs">FF</text>
<text x="417.3" y="59.9" font-size="16.4" fill="#1f3a60" stroke="#1f3a60" stroke-width="0.8" textLength="22.4" lengthAdjust="spacingAndGlyphs">SIB</text>
<text x="383.0" y="124.4" font-size="16.4" fill="#ee1515" stroke="#ee1515" stroke-width="0.8" textLength="27.8" lengthAdjust="spacingAndGlyphs">PTV</text>
<text x="238.1" y="149.1" font-size="15.2" fill="#f7982a" stroke="#f7982a" stroke-width="0.8" textLength="80.9" lengthAdjust="spacingAndGlyphs">Parotid left</text>
<text x="238.1" y="169.1" font-size="15.2" fill="#4f6a2c" stroke="#4f6a2c" stroke-width="0.8" textLength="90.7" lengthAdjust="spacingAndGlyphs">Parotid right</text>
<text x="67.4" y="169.1" font-size="15.6" fill="#2a2ad0" stroke="#2a2ad0" stroke-width="0.8" textLength="81.7" lengthAdjust="spacingAndGlyphs">Spinal Cord</text>
<text x="50.7" y="244.0" font-size="15.6" fill="#0cb0f0" stroke="#0cb0f0" stroke-width="0.8" textLength="103.5" lengthAdjust="spacingAndGlyphs">Healthy Tissue</text>
<text x="246.3" y="245.8" font-size="15.0" fill="#179a46" stroke="#179a46" stroke-width="0.8" textLength="71.8" lengthAdjust="spacingAndGlyphs">Brainstem</text>
<text x="426.6" y="368.6" font-size="15.6" fill="#1f3a60" stroke="#1f3a60" stroke-width="0.8" textLength="23.1" lengthAdjust="spacingAndGlyphs">SIB</text>
<text x="387.8" y="412.7" font-size="16.0" fill="#ee1515" stroke="#ee1515" stroke-width="0.8" textLength="28.1" lengthAdjust="spacingAndGlyphs">PTV</text>
<text x="239.0" y="433.0" font-size="14.6" fill="#f7982a" stroke="#f7982a" stroke-width="0.8" textLength="80.6" lengthAdjust="spacingAndGlyphs">Parotid left</text>
<text x="239.0" y="453.3" font-size="14.6" fill="#4f6a2c" stroke="#4f6a2c" stroke-width="0.8" textLength="89.5" lengthAdjust="spacingAndGlyphs">Parotid right</text>
<text x="79.6" y="462.7" font-size="15.6" fill="#2a2ad0" stroke="#2a2ad0" stroke-width="0.8" textLength="80.7" lengthAdjust="spacingAndGlyphs">Spinal Cord</text>
<text x="60.1" y="552.0" font-size="15.6" fill="#0cb0f0" stroke="#0cb0f0" stroke-width="0.8" textLength="103.0" lengthAdjust="spacingAndGlyphs">Healthy Tissue</text>
<text x="314.4" y="487.1" font-size="15.2" fill="#179a46" stroke="#179a46" stroke-width="0.8" textLength="71.2" lengthAdjust="spacingAndGlyphs">Brainstem</text>
</g>
</svg>
</body></html>
